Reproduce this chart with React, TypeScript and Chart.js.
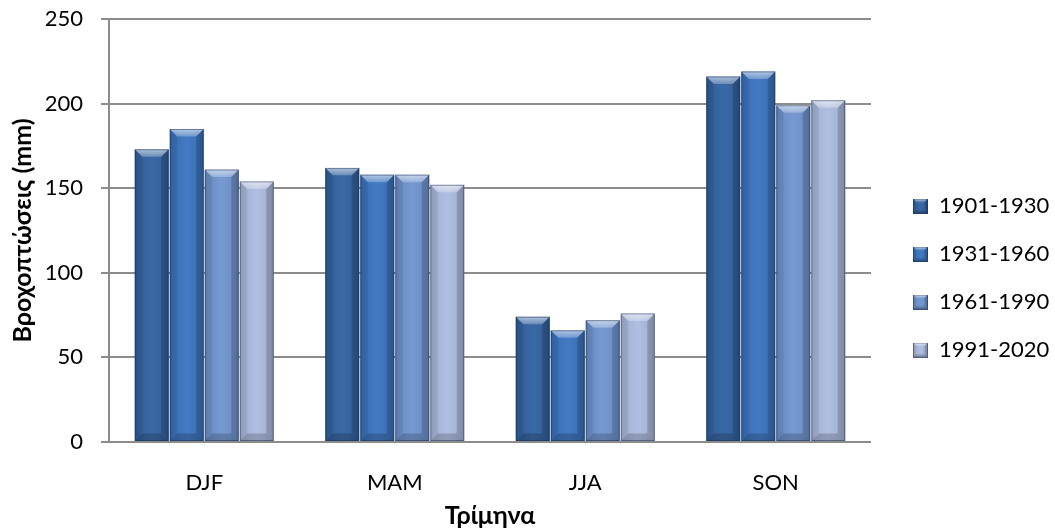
import React, { useEffect, useRef } from 'react';
import { Chart, registerables } from 'chart.js';

Chart.register(...registerables);

const categories = ['DJF', 'MAM', 'JJA', 'SON'];
const seriesLabels = ['1901-1930', '1931-1960', '1961-1990', '1991-2020'];
const values1901 = [173, 162, 74, 216];
const values1931 = [185, 158, 66, 219];
const values1961 = [161, 158, 72, 199];
const values1991 = [154, 152, 76, 202];
const yTicks = [0, 50, 100, 150, 200, 250];
const seriesColors = ['#2F60A0', '#3872BF', '#6E93CF', '#ABBADF'];
const yTitle = 'Βροχοπτώσεις (mm)';
const xTitle = 'Τρίμηνα';

const W = 1055;
const H = 531;
const FONT = 'Lato, "Noto Sans", sans-serif';

function drawBevel(ctx: CanvasRenderingContext2D, l: number, t: number, r: number, b: number, color: string, fill: boolean, maxS: number) {
  const w = r - l;
  const h = b - t;
  if (w <= 0 || h <= 0) return;
  const s = Math.max(0, Math.min(maxS, w * 0.22, h * 0.5));
  ctx.save();
  if (fill) {
    ctx.fillStyle = color;
    ctx.fillRect(l, t, w, h);
  }
  const g = ctx.createLinearGradient(l, 0, r, 0);
  g.addColorStop(0, 'rgba(0,0,0,0.10)');
  g.addColorStop(0.5, 'rgba(255,255,255,0.05)');
  g.addColorStop(1, 'rgba(0,0,0,0.12)');
  ctx.fillStyle = g;
  ctx.fillRect(l, t, w, h);
  ctx.beginPath();
  ctx.moveTo(l, t);
  ctx.lineTo(r, t);
  ctx.lineTo(r - s, t + s);
  ctx.lineTo(l + s, t + s);
  ctx.closePath();
  const tg = ctx.createLinearGradient(0, t, 0, t + s);
  tg.addColorStop(0, 'rgba(255,255,255,0.6)');
  tg.addColorStop(1, 'rgba(255,255,255,0.25)');
  ctx.fillStyle = tg;
  ctx.fill();
  ctx.beginPath();
  ctx.moveTo(l, t);
  ctx.lineTo(l + s, t + s);
  ctx.lineTo(l + s, b - s);
  ctx.lineTo(l, b);
  ctx.closePath();
  ctx.fillStyle = 'rgba(0,0,0,0.07)';
  ctx.fill();
  ctx.beginPath();
  ctx.moveTo(r, t);
  ctx.lineTo(r - s, t + s);
  ctx.lineTo(r - s, b - s);
  ctx.lineTo(r, b);
  ctx.closePath();
  ctx.fillStyle = 'rgba(0,0,0,0.16)';
  ctx.fill();
  ctx.beginPath();
  ctx.moveTo(l, b);
  ctx.lineTo(l + s, b - s);
  ctx.lineTo(r - s, b - s);
  ctx.lineTo(r, b);
  ctx.closePath();
  ctx.fillStyle = 'rgba(0,0,0,0.18)';
  ctx.fill();
  ctx.strokeStyle = 'rgba(20,40,70,0.45)';
  ctx.lineWidth = 1;
  ctx.strokeRect(l + 0.5, t + 0.5, w - 1, h - 1);
  ctx.restore();
}

function makeIcon(color: string): HTMLCanvasElement {
  const c = document.createElement('canvas');
  c.width = 15;
  c.height = 15;
  const ctx = c.getContext('2d')!;
  drawBevel(ctx, 0, 0, 15, 15, color, true, 4);
  return c;
}

export default function App() {
  const ref = useRef<HTMLCanvasElement>(null);

  useEffect(() => {
    const canvas = ref.current;
    if (!canvas) return;
    const icons = seriesColors.map((c) => makeIcon(c));
    const seriesValues = [values1901, values1931, values1961, values1991];

    const bevelPlugin = {
      id: 'bevel',
      afterDatasetsDraw(chart: any) {
        const ctx = chart.ctx;
        chart.data.datasets.forEach((_ds: any, i: number) => {
          const meta = chart.getDatasetMeta(i);
          meta.data.forEach((el: any) => {
            const p = el.getProps(['x', 'y', 'base', 'width'], true);
            const left = p.x - p.width / 2;
            const right = p.x + p.width / 2;
            const top = Math.min(p.y, p.base);
            const bottom = Math.max(p.y, p.base);
            drawBevel(ctx, left, top, right, bottom, seriesColors[i], false, 8);
          });
        });
      },
    };

    const LEGEND_W = 184;
    const LEGEND_PAD = 26;
    const LEGEND_FONT = 22;
    const legendPlace = {
      id: 'legendPlace',
      beforeLayout(chart: any) {
        const lg = chart.legend;
        if (lg && !lg._patchedFit) {
          const orig = lg.fit.bind(lg);
          lg.fit = function () {
            orig();
            this.width = LEGEND_W;
          };
          lg._patchedFit = true;
        }
      },
      afterLayout(chart: any) {
        const lg = chart.legend;
        if (!lg) return;
        lg.left = 913 - LEGEND_PAD;
        lg.right = lg.left + lg.width;
        lg.top = 206 - LEGEND_FONT / 2 - LEGEND_PAD;
      },
    };

    const chart = new Chart(canvas, {
      type: 'bar',
      data: {
        labels: categories,
        datasets: seriesLabels.map((label, i) => ({
          label,
          data: seriesValues[i],
          backgroundColor: seriesColors[i],
          borderWidth: 0,
          barPercentage: 0.97,
          categoryPercentage: 0.735,
        })),
      },
      options: {
        responsive: false,
        animation: false,
        layout: { padding: { top: 19, left: 0, right: 0, bottom: 0 } },
        plugins: {
          tooltip: { enabled: false },
          legend: {
            position: 'right',
            align: 'start',
            labels: {
              usePointStyle: true,
              boxWidth: 15,
              boxHeight: 15,
              padding: LEGEND_PAD,
              color: '#000',
              font: { family: FONT, size: LEGEND_FONT },
              generateLabels: (ch: any) =>
                ch.data.datasets.map((ds: any, i: number) => ({
                  text: ds.label,
                  fillStyle: seriesColors[i],
                  strokeStyle: seriesColors[i],
                  lineWidth: 0,
                  hidden: false,
                  datasetIndex: i,
                  pointStyle: icons[i],
                  fontColor: '#000',
                })),
            },
          },
        },
        scales: {
          x: {
            grid: { display: false },
            border: { display: false },
            ticks: {
              color: '#000',
              padding: 20,
              font: { family: FONT, size: 22 },
            },
            title: {
              display: true,
              text: xTitle,
              color: '#000',
              font: { family: FONT, size: 25, weight: 'bold' },
              padding: { top: 0, bottom: 0 },
            },
            afterFit: (scale: any) => {
              scale.height = H - 442;
              scale.paddingLeft = 0;
              scale.paddingRight = 0;
            },
          },
          y: {
            min: yTicks[0],
            max: yTicks[yTicks.length - 1],
            afterBuildTicks: (scale: any) => {
              scale.ticks = yTicks.map((v) => ({ value: v }));
            },
            grid: {
              color: '#8C8C8C',
              lineWidth: 2,
              drawTicks: true,
              tickLength: 8,
            },
            border: { display: true, color: '#8C8C8C', width: 2 },
            ticks: {
              color: '#000',
              padding: 18,
              font: { family: FONT, size: 22 },
            },
            title: {
              display: true,
              text: yTitle,
              color: '#000',
              font: { family: FONT, size: 25, weight: 'bold' },
              padding: { top: 8, bottom: 0 },
            },
            afterFit: (scale: any) => {
              scale.width = 109;
              scale.paddingTop = 0;
              scale.paddingBottom = 0;
            },
          },
        },
      },
      plugins: [bevelPlugin, legendPlace],
    });

    return () => chart.destroy();
  }, []);

  return (
    <div style={{ position: 'fixed', left: 0, top: 0, width: W, height: H, background: '#fff' }}>
      <canvas ref={ref} width={W} height={H} style={{ display: 'block' }} />
    </div>
  );
}
